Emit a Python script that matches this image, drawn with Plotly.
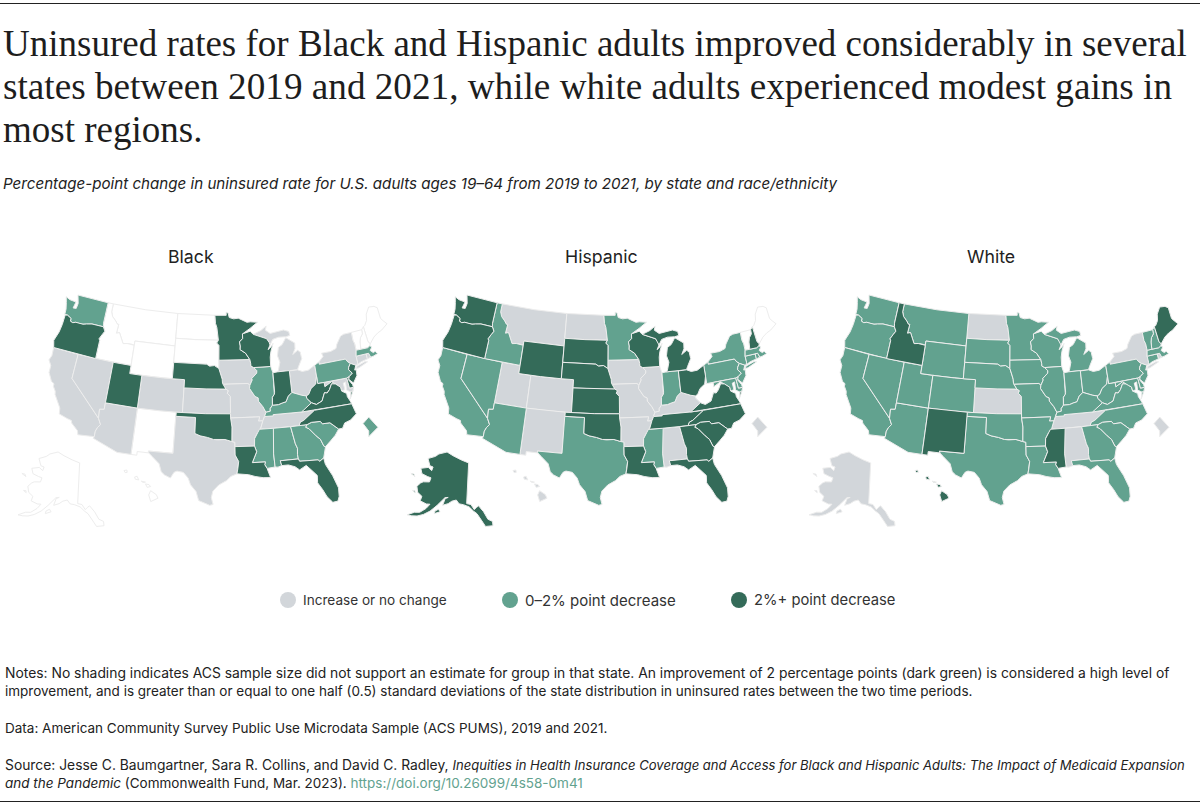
import math
import plotly.graph_objects as go

W, H = 1200, 805

# what each panel shows, by bucket
BLACK_UP = ["CA", "NV", "AZ", "CO", "KS", "TX", "IA", "MO", "AR", "TN", "MI", "OH", "NY", "CT", "RI", "MD"]
BLACK_MID = ["WA", "IL", "KY", "PA", "MA", "MS", "AL", "GA", "SC", "DC"]
BLACK_DARK = ["OR", "UT", "NE", "OK", "MN", "WI", "IN", "WV", "VA", "NC", "NJ", "DE", "LA", "FL"]
BLACK_NONE = ["MT", "ID", "WY", "ND", "SD", "NM", "ME", "NH", "VT", "AK", "HI"]

HISP_UP = ["MT", "ND", "UT", "CO", "NM", "IA", "MO", "IL", "AR", "KY", "AL", "HI", "DC"]
HISP_MID = ["CA", "NV", "AZ", "ID", "TX", "MN", "IN", "MS", "NY", "PA", "NJ", "MD", "DE", "CT", "MA", "RI"]
HISP_DARK = ["WA", "OR", "WY", "SD", "NE", "KS", "OK", "WI", "MI", "OH", "TN", "VA", "NC", "SC", "GA", "FL", "LA", "AK", "NH"]
HISP_NONE = ["WV", "ME", "VT"]

WHITE_UP = ["ND", "KS", "TN", "AL", "NY", "AK", "DC", "RI"]
WHITE_MID = ["WA", "OR", "CA", "NV", "AZ", "UT", "MT", "WY", "CO", "SD", "NE", "TX", "OK", "MN", "IA", "MO", "AR", "LA",
             "WI", "IL", "MI", "IN", "OH", "KY", "WV", "VA", "NC", "SC", "GA", "FL", "PA", "NJ", "MD", "DE", "CT", "MA",
             "NH", "VT"]
WHITE_DARK = ["ID", "NM", "MS", "ME", "HI"]
WHITE_NONE = []

PANEL_NAMES = ["Black", "Hispanic", "White"]
LEGEND_LABELS = ["Increase or no change", "0–2% point decrease", "2%+ point decrease"]

TITLE_LINES = [
    "Uninsured rates for Black and Hispanic adults improved considerably in several",
    "states between 2019 and 2021, while white adults experienced modest gains in",
    "most regions.",
]
SUBTITLE = "Percentage-point change in uninsured rate for U.S. adults ages 19–64 from 2019 to 2021, by state and race/ethnicity"
FOOT_LINES = [
    "Notes: No shading indicates ACS sample size did not support an estimate for group in that state. An improvement of 2 percentage points (dark green) is considered a high level of",
    "improvement, and is greater than or equal to one half (0.5) standard deviations of the state distribution in uninsured rates between the two time periods.",
    "Data: American Community Survey Public Use Microdata Sample (ACS PUMS), 2019 and 2021.",
    "Source: Jesse C. Baumgartner, Sara R. Collins, and David C. Radley, <i><span style='font-size:13.05px'>Inequities in Health Insurance Coverage and Access for Black and Hispanic Adults: The Impact of Medicaid Expansion</span></i>",
    "<i>and the Pandemic</i> (Commonwealth Fund, Mar. 2023). <span style='color:#62A28F'>https://doi.org/10.26099/4s58-0m41</span>",
]
FOOT_Y = [673, 691, 728, 765, 783]
FOOT_SIZE = [13.87, 13.5, 13.5, 13.85, 13.5]
LEGEND_SIZE = [13.6, 15, 14.75]

GRAY, MID, DARK = "#D2D6DA", "#62A28F", "#346B59"
EDGE = "#EDEDED"

# rough state outlines, lon/lat
SHAPES = {
    "WA": [[(-122.76,49),(-117.03,49),(-117.04,46.42),(-116.92,45.99),(-118.98,46),(-119.3,45.93),(-119.9,45.84),(-120.5,45.7),(-121.2,45.67),(-121.8,45.7),(-122.3,45.55),(-122.75,45.65),(-122.8,46),(-123.2,46.15),(-123.55,46.26),(-124.05,46.27),(-124.1,46.9),(-124.4,47.7),(-124.73,48.38),(-123.9,48.16),(-123.1,48.15),(-122.75,48.1),(-122.95,47.3),(-122.4,47.35),(-122.3,48),(-122.5,48.5)]],
    "OR": [[(-123.55,46.26),(-123.2,46.15),(-122.8,46),(-122.75,45.65),(-122.3,45.55),(-121.8,45.7),(-121.2,45.67),(-120.5,45.7),(-119.9,45.84),(-119.3,45.93),(-118.98,46),(-116.92,45.99),(-116.5,45.5),(-116.85,45),(-117.2,44.45),(-117.03,44.25),(-117.03,42),(-124.21,42),(-124.55,42.84),(-124.1,44),(-123.95,45),(-123.95,46.2)]],
    "ID": [[(-117.03,49),(-116.05,49),(-116.05,48),(-115.7,47.45),(-115,47),(-114.6,46.65),(-114.35,46.65),(-114.45,45.55),(-113.95,45.7),(-113.45,45.05),(-113,44.45),(-112.3,44.55),(-111.5,44.55),(-111.05,44.48),(-111.05,42),(-117.03,42),(-117.03,44.25),(-117.2,44.45),(-116.85,45),(-116.5,45.5),(-116.92,45.99),(-117.04,46.42)]],
    "MT": [[(-116.05,49),(-110,49),(-104.05,49),(-104.05,45),(-111.05,45),(-111.05,44.48),(-111.5,44.55),(-112.3,44.55),(-113,44.45),(-113.45,45.05),(-113.95,45.7),(-114.45,45.55),(-114.35,46.65),(-114.6,46.65),(-115,47),(-115.7,47.45),(-116.05,48)]],
    "WY": [[(-111.05,45),(-107.5,45),(-104.05,45),(-104.05,41),(-107.5,41),(-111.05,41)]],
    "ND": [[(-104.05,49),(-100.5,49),(-97.23,49),(-97.1,48),(-96.85,47.5),(-96.56,45.94),(-100.5,45.94),(-104.05,45.94)]],
    "SD": [[(-104.05,45.94),(-100.5,45.94),(-96.56,45.94),(-96.85,45.6),(-96.45,45.3),(-96.45,43.5),(-96.45,42.49),(-97.2,42.85),(-98,42.77),(-98.5,43),(-101,43),(-104.05,43)]],
    "NE": [[(-104.05,43),(-101,43),(-98.5,43),(-98,42.77),(-97.2,42.85),(-96.45,42.49),(-96.1,41.7),(-95.9,41.2),(-95.85,40.7),(-95.31,40),(-98.5,40),(-102.05,40),(-102.05,41),(-104.05,41)]],
    "CO": [[(-109.05,41),(-105.5,41),(-102.05,41),(-102.05,37),(-105.5,37),(-109.05,37)]],
    "UT": [[(-111.05,42),(-111.05,41),(-109.05,41),(-109.05,37),(-114.05,37),(-114.05,42)]],
    "NV": [[(-120,42),(-114.05,42),(-114.05,36.2),(-114.75,36.1),(-114.63,35),(-120,39)]],
    "CA": [[(-124.21,42),(-120,42),(-120,39),(-114.63,35),(-114.15,34.3),(-114.5,33.9),(-114.72,33.4),(-114.72,32.72),(-117.12,32.53),(-117.3,33),(-118.4,33.75),(-118.5,34.03),(-119.2,34.15),(-120.5,34.45),(-120.65,35.15),(-121.9,36.6),(-122,36.96),(-122.5,37.5),(-122.5,37.8),(-123,38),(-123.75,38.95),(-123.8,39.8),(-124.35,40.4),(-124.1,41)]],
    "AZ": [[(-114.05,37),(-109.05,37),(-109.05,31.33),(-111.07,31.33),(-114.81,32.5),(-114.72,32.72),(-114.72,33.4),(-114.5,33.9),(-114.15,34.3),(-114.63,35),(-114.75,36.1),(-114.05,36.2)]],
    "NM": [[(-109.05,37),(-106,37),(-103,37),(-103.04,32),(-106.62,32),(-106.53,31.78),(-108.21,31.78),(-108.21,31.33),(-109.05,31.33)]],
    "TX": [[(-103.04,36.5),(-100,36.5),(-100,34.56),(-99.2,34.3),(-98.1,34.13),(-97.2,33.9),(-96.6,33.85),(-95.5,33.9),(-94.48,33.64),(-94.04,33.55),(-94.04,33.02),(-94.04,31.99),(-93.55,31.2),(-93.7,30.3),(-93.84,29.7),(-94.7,29.4),(-95.3,28.9),(-96.4,28.35),(-97.2,27.6),(-97.4,26.8),(-97.15,25.96),(-97.6,25.85),(-98.3,26.1),(-99.1,26.4),(-99.5,27.5),(-100.3,28.3),(-100.67,29.1),(-101.4,29.77),(-102.3,29.88),(-102.7,29.7),(-103.15,28.98),(-104,29.3),(-104.5,29.65),(-104.9,30.6),(-106,31.4),(-106.53,31.78),(-106.62,32),(-103.04,32)]],
    "OK": [[(-103,37),(-98.5,37),(-94.62,37),(-94.62,36.5),(-94.43,35.4),(-94.48,33.64),(-95.5,33.9),(-96.6,33.85),(-97.2,33.9),(-98.1,34.13),(-99.2,34.3),(-100,34.56),(-100,36.5),(-103.02,36.5)]],
    "KS": [[(-102.05,40),(-98.5,40),(-95.31,40),(-94.9,39.8),(-95.1,39.5),(-94.61,39.11),(-94.62,37),(-98.5,37),(-102.05,37)]],
    "MN": [[(-97.23,49),(-95.15,49),(-95.15,49.38),(-94.8,49.3),(-94.6,48.72),(-93.8,48.55),(-92.95,48.62),(-92,48.3),(-91.4,48.07),(-90.75,48.1),(-89.5,48),(-90.9,47.3),(-92.05,46.72),(-92.3,46.66),(-92.29,46.1),(-92.87,45.7),(-92.75,45.2),(-92.8,44.75),(-91.9,44.3),(-91.22,43.5),(-96.45,43.5),(-96.45,45.3),(-96.85,45.6),(-96.56,45.94),(-96.85,47.5),(-97.1,48)]],
    "IA": [[(-96.45,43.5),(-91.22,43.5),(-91.1,43),(-91.1,42.7),(-90.64,42.5),(-90.15,42.1),(-90.2,41.8),(-91.05,41.2),(-91,41),(-91.42,40.38),(-91.73,40.61),(-95.77,40.58),(-95.85,40.7),(-95.9,41.2),(-96.1,41.7),(-96.45,42.49)]],
    "MO": [[(-95.77,40.58),(-91.73,40.61),(-91.42,40.38),(-91.5,40),(-90.7,39),(-90.2,38.8),(-90.2,38.4),(-89.55,37.7),(-89.15,37),(-89.4,36.5),(-89.7,36),(-90.37,36),(-90.15,36.5),(-94.62,36.5),(-94.62,37),(-94.61,39.11),(-95.1,39.5),(-94.9,39.8),(-95.31,40)]],
    "AR": [[(-94.62,36.5),(-90.15,36.5),(-90.37,36),(-89.7,36),(-90.1,35.1),(-90.6,34.6),(-91.1,33.9),(-91.17,33),(-94.04,33.02),(-94.04,33.55),(-94.48,33.64),(-94.43,35.4)]],
    "LA": [[(-94.04,33.02),(-91.17,33),(-90.9,32.3),(-91.6,31),(-89.73,31),(-89.85,30.67),(-89.55,30.2),(-89.4,29.8),(-89.15,29.05),(-90.2,29.1),(-91.3,29.3),(-92.2,29.55),(-93.84,29.7),(-93.7,30.3),(-93.55,31.2),(-94.04,31.99)]],
    "WI": [[(-92.05,46.72),(-90.9,46.95),(-90.4,46.55),(-89.1,46.14),(-88.1,45.9),(-87.7,45.4),(-87.6,45.1),(-88,44.55),(-87.4,44.9),(-87.05,45.25),(-87.55,44.3),(-87.75,43.6),(-87.8,42.49),(-90.64,42.5),(-91.1,42.7),(-91.1,43),(-91.22,43.5),(-91.9,44.3),(-92.8,44.75),(-92.75,45.2),(-92.87,45.7),(-92.29,46.1),(-92.3,46.66)]],
    "IL": [[(-90.64,42.5),(-87.8,42.49),(-87.53,41.7),(-87.53,39.35),(-87.6,39.1),(-87.95,38.75),(-88.05,37.8),(-88.45,37.4),(-88.45,37.1),(-89.15,37),(-89.55,37.7),(-90.2,38.4),(-90.2,38.8),(-90.7,39),(-91.5,40),(-91.42,40.38),(-91,41),(-91.05,41.2),(-90.2,41.8),(-90.15,42.1)]],
    "IN": [[(-87.53,41.7),(-87.2,41.76),(-86.82,41.76),(-84.8,41.76),(-84.81,39.1),(-85.45,38.7),(-85.9,38.05),(-86.5,37.95),(-87.1,37.8),(-88.05,37.8),(-87.95,38.75),(-87.6,39.1),(-87.53,39.35)]],
    "MI": [[(-86.82,41.76),(-84.8,41.76),(-83.45,41.73),(-83.2,42.1),(-82.5,43),(-82.6,43.85),(-83,44.07),(-83.9,43.65),(-83.4,44.3),(-83.3,45),(-84.75,45.78),(-85.5,45),(-86.2,44.7),(-86.5,43.7),(-86.2,42.9),(-86.6,41.9)],
           [(-90.4,46.55),(-89.1,46.14),(-88.1,45.9),(-87.6,45.1),(-87.05,45.75),(-86,45.95),(-84.75,45.9),(-84,46),(-84.1,46.5),(-85,46.75),(-86.1,46.67),(-87.4,46.5),(-88.2,46.95),(-88,47.45),(-89,46.95)]],
    "OH": [[(-84.8,41.72),(-83.45,41.73),(-82.7,41.45),(-81.7,41.5),(-80.52,41.98),(-80.52,40.64),(-80.85,39.7),(-81.7,39.25),(-82.2,38.6),(-82.6,38.45),(-83.3,38.6),(-84.3,38.9),(-84.81,39.1)]],
    "KY": [[(-89.4,36.5),(-88.07,36.5),(-88.07,36.65),(-83.68,36.6),(-83.1,36.85),(-81.97,37.54),(-82.6,38.17),(-82.6,38.45),(-83.3,38.6),(-84.3,38.9),(-84.81,39.1),(-85.45,38.7),(-85.9,38.05),(-86.5,37.95),(-87.1,37.8),(-88.05,37.8),(-88.45,37.4),(-88.45,37.1),(-89.15,37)]],
    "TN": [[(-90.3,35),(-88.2,35),(-84.32,35),(-84.05,35.4),(-83.5,35.57),(-82.7,36),(-81.68,36.59),(-83.68,36.6),(-88.07,36.65),(-88.07,36.5),(-89.4,36.5),(-89.7,36),(-90.1,35.1)]],
    "MS": [[(-90.3,35),(-88.2,35),(-88.1,34.9),(-88.47,31.9),(-88.4,30.3),(-89.55,30.2),(-89.85,30.67),(-89.73,31),(-91.6,31),(-90.9,32.3),(-91.17,33),(-91.1,33.9),(-90.6,34.6)]],
    "AL": [[(-88.2,35),(-85.6,34.99),(-85.18,32.87),(-84.95,32.3),(-85.05,31.55),(-85,31),(-87.6,31),(-87.45,30.4),(-88,30.25),(-88.4,30.3),(-88.47,31.9),(-88.1,34.9)]],
    "GA": [[(-85.6,34.99),(-83.1,35),(-83.35,34.7),(-82.9,34.48),(-82,33.5),(-81.45,33),(-81.1,32.1),(-80.88,32.03),(-81.4,30.7),(-82.05,30.36),(-82.2,30.57),(-84.86,30.7),(-85,31),(-85.05,31.55),(-84.95,32.3),(-85.18,32.87)]],
    "FL": [[(-87.6,31),(-85,31),(-84.86,30.7),(-82.2,30.57),(-82.05,30.36),(-81.4,30.7),(-81.3,29.9),(-80.55,28.4),(-80.03,26.8),(-80.13,25.75),(-80.4,25.2),(-81.1,25.15),(-81.75,25.95),(-82.2,26.9),(-82.75,27.8),(-82.65,28.7),(-83.4,29.5),(-84,30.1),(-85,29.65),(-85.6,30.1),(-86.5,30.4),(-87.45,30.4)]],
    "SC": [[(-83.35,34.7),(-83.1,35),(-82.4,35.2),(-81.05,35.15),(-80.8,34.82),(-79.67,34.8),(-78.55,33.86),(-79.2,33.2),(-79.9,32.7),(-80.88,32.03),(-81.1,32.1),(-81.45,33),(-82,33.5),(-82.9,34.48)]],
    "NC": [[(-84.32,35),(-83.1,35),(-82.4,35.2),(-81.05,35.15),(-80.8,34.82),(-79.67,34.8),(-78.55,33.86),(-77.95,33.87),(-77.5,34.45),(-76.55,34.65),(-75.5,35.25),(-75.87,36.55),(-81.68,36.59),(-82.7,36),(-83.5,35.57),(-84.05,35.4)]],
    "VA": [[(-83.68,36.6),(-75.87,36.55),(-76,36.9),(-76.3,37.5),(-76.3,37.9),(-77,38.3),(-77.05,38.8),(-77.5,39.1),(-77.75,39.3),(-78.35,39.4),(-78.85,38.75),(-79.3,38.4),(-79.7,38.5),(-80.3,37.55),(-81.25,37.25),(-81.97,37.54),(-83.1,36.85)],
           [(-75.95,37.15),(-75.6,37.95),(-75.25,38.03)]],
    "WV": [[(-82.6,38.17),(-81.97,37.54),(-81.25,37.25),(-80.3,37.55),(-79.7,38.5),(-79.3,38.4),(-78.85,38.75),(-78.35,39.4),(-77.75,39.3),(-78.3,39.65),(-79.48,39.2),(-79.48,39.72),(-80.52,39.72),(-80.52,40.64),(-80.85,39.7),(-81.7,39.25),(-82.2,38.6),(-82.6,38.45)]],
    "MD": [[(-79.48,39.72),(-75.79,39.72),(-75.7,38.46),(-75.05,38.45),(-75.25,38.03),(-75.6,37.95),(-76.2,38.3),(-76.1,39.3),(-76.5,39.2),(-76.45,38.4),(-77,38.3),(-77.05,38.8),(-77.5,39.1),(-77.75,39.3),(-78.3,39.65),(-79.48,39.2)]],
    "DE": [[(-75.79,39.72),(-75.4,39.8),(-75.55,39.45),(-75.1,38.8),(-75.05,38.45),(-75.7,38.46)]],
    "PA": [[(-80.52,41.98),(-79.76,42.27),(-79.76,42),(-75.35,42),(-75.05,41.6),(-74.7,41.36),(-75.1,40.95),(-75.2,40.65),(-74.73,40.15),(-75.4,39.8),(-75.79,39.72),(-80.52,39.72)]],
    "NJ": [[(-74.7,41.36),(-73.9,41),(-74.25,40.45),(-74,40.45),(-74.1,39.75),(-74.9,38.95),(-75.55,39.55),(-75.4,39.8),(-74.73,40.15),(-75.2,40.65),(-75.1,40.95)]],
    "NY": [[(-79.76,42.27),(-78.9,42.85),(-79.05,43.27),(-77.5,43.27),(-76.5,43.5),(-76.2,44),(-75.3,44.85),(-74.7,45),(-73.35,45),(-73.4,44),(-73.25,43.55),(-73.27,42.75),(-73.5,42.05),(-73.5,41.3),(-73.65,41),(-73.9,41),(-74.7,41.36),(-75.05,41.6),(-75.35,42),(-79.76,42)],
           [(-74,40.6),(-73.75,40.85),(-72.3,41.15),(-71.9,41.05),(-73.5,40.6)]],
    "CT": [[(-73.5,42.05),(-71.8,42.02),(-71.8,41.4),(-72.9,41.25),(-73.65,41),(-73.5,41.3)]],
    "RI": [[(-71.8,42.02),(-71.38,42.02),(-71.2,41.5),(-71.8,41.4)]],
    "MA": [[(-73.27,42.75),(-71.3,42.7),(-70.85,42.87),(-70.6,42.65),(-71,42.3),(-70.6,41.95),(-70.25,42.05),(-69.95,41.7),(-70.65,41.55),(-71.2,41.5),(-71.38,42.02),(-71.8,42.02),(-73.5,42.05)]],
    "VT": [[(-73.35,45),(-71.5,45.01),(-71.55,44.5),(-72.05,44.1),(-72.3,43.6),(-72.46,42.73),(-73.27,42.75),(-73.25,43.55),(-73.4,44)]],
    "NH": [[(-71.5,45.01),(-71.08,45.3),(-70.98,43.4),(-70.7,43.08),(-70.85,42.87),(-71.3,42.7),(-72.46,42.73),(-72.3,43.6),(-72.05,44.1),(-71.55,44.5)]],
    "ME": [[(-71.08,45.3),(-70.8,45.4),(-70.25,45.95),(-70,46.7),(-69.25,47.45),(-68.3,47.35),(-67.8,47.07),(-67.8,45.7),(-67.45,45.3),(-67,44.85),(-68.2,44.3),(-69,44.1),(-69.8,43.75),(-70.7,43.08),(-70.98,43.4)]],
}
ALASKA = [
    [(-141,69.65),(-141,60.3),(-139,60.1),(-137.5,58.95),(-136.5,59.45),(-135.5,59.8),(-134,58.8),(-133.4,58.4),(-131.8,56.6),(-130,56),(-130,55),(-131.5,55),(-133,55),(-134,56),(-135,57),(-136.3,58),(-137.8,58.6),(-139.8,59.55),(-142.5,60),(-144.5,60.1),(-146,60.9),(-148,60.5),(-149.5,59.8),(-151.8,59.2),(-151.3,60.8),(-150,61.2),(-151.5,61),(-153,59.8),(-154.2,58.9),(-156.5,57.2),(-158.8,56),(-161,55.2),(-163,54.8),(-164.9,54.6),(-162.5,55.8),(-160.5,56.2),(-158.5,57.5),(-157.4,58.7),(-159,58.5),(-162,58.7),(-162,59.8),(-164.5,60.3),(-166,61.5),(-165,62.5),(-164,63),(-161,63.5),(-161,64.5),(-163,64.5),(-166.3,64.6),(-168.1,65.6),(-164.5,66.5),(-162,66.1),(-162,67),(-164,67),(-166.8,68.35),(-163,69.5),(-161.5,70.3),(-156.6,71.35),(-152,70.85),(-146,70.2)],
    [(-154.5,56.9),(-152.3,57.6),(-153.2,58.1),(-154.5,57.5)],
    [(-171.5,63.5),(-169,63.3),(-170,63.7)],
    [(-167,60.2),(-165.5,60),(-166,60.4)],
]
HAWAII = [
    [(-155.9,20.25),(-155.1,19.9),(-154.8,19.5),(-155.65,18.95),(-156.05,19.7)],
    [(-156.7,20.95),(-156.25,20.95),(-156,20.75),(-156.4,20.58)],
    [(-157.3,21.2),(-156.75,21.17),(-157.05,21.08)],
    [(-158.25,21.55),(-157.95,21.7),(-157.65,21.3),(-158.1,21.3)],
    [(-159.75,22.1),(-159.4,22.23),(-159.3,21.95),(-159.55,21.88)],
]
DC_SHAPE = [[(-77.12,38.93),(-77.04,39.0),(-76.91,38.89),(-77.04,38.79),(-77.04,38.85)]]


def albers(ring, lon0, lat0, p1, p2):
    n = (math.sin(math.radians(p1)) + math.sin(math.radians(p2))) / 2
    c = math.cos(math.radians(p1)) ** 2 + 2 * n * math.sin(math.radians(p1))
    r0 = math.sqrt(c - 2 * n * math.sin(math.radians(lat0))) / n
    out = []
    for lon, lat in ring:
        r = math.sqrt(c - 2 * n * math.sin(math.radians(lat))) / n
        a = n * math.radians(lon - lon0)
        out.append((r * math.sin(a), r0 - r * math.cos(a)))
    return out


def place(rings, left, top, width, turn=0.0):
    # turn is clockwise, degrees; result runs in pixels inside a panel
    t = math.radians(turn)
    spun = [[(x * math.cos(t) + y * math.sin(t), -x * math.sin(t) + y * math.cos(t)) for x, y in r] for r in rings]
    xs = [p[0] for r in spun for p in r]
    ys = [p[1] for r in spun for p in r]
    k = width / (max(xs) - min(xs))
    return [[(left + (x - min(xs)) * k, top + (max(ys) - y) * k) for x, y in r] for r in spun]


names = list(SHAPES)
flat = place([albers(r, -96, 37.5, 29.5, 45.5) for s in names for r in SHAPES[s]], 49, 15, 338)
panel_xy = {}
i = 0
for s in names:
    panel_xy[s] = flat[i:i + len(SHAPES[s])]
    i += len(SHAPES[s])
panel_xy["AK"] = place([albers(r, -154, 50, 55, 65) for r in ALASKA], 18, 172, 86, turn=14)
panel_xy["HI"] = place([albers(r, -157, 20, 8, 18) for r in HAWAII], 124, 190, 34, turn=10)
panel_xy["DC"] = place([albers(r, -77, 38.9, 29.5, 45.5) for r in DC_SHAPE], 363, 137, 15)

panels = [
    (BLACK_NONE, BLACK_UP, BLACK_MID, BLACK_DARK),
    (HISP_NONE, HISP_UP, HISP_MID, HISP_DARK),
    (WHITE_NONE, WHITE_UP, WHITE_MID, WHITE_DARK),
]
panel_left = [0, 389, 791]
panel_title_x = [191, 601, 991]
panel_w, panel_top, panel_h = 400, 280, 258

fig = go.Figure()
for p, buckets in enumerate(panels):
    sfx = "" if p == 0 else str(p + 1)
    for states, col in zip(buckets, ["#FFFFFF", GRAY, MID, DARK]):
        for s in states:
            xs, ys = [], []
            for ring in panel_xy[s]:
                xs += [q[0] for q in ring] + [ring[0][0], None]
                ys += [q[1] for q in ring] + [ring[0][1], None]
            fig.add_trace(go.Scatter(x=xs, y=ys, xaxis="x" + sfx, yaxis="y" + sfx, mode="lines", fill="toself",
                                     fillcolor=col, line=dict(color=EDGE, width=1), hoverinfo="skip", showlegend=False))
    fig.update_layout({
        "xaxis" + sfx: dict(domain=[panel_left[p] / W, min(1, (panel_left[p] + panel_w) / W)], range=[0, panel_w],
                            visible=False, fixedrange=True),
        "yaxis" + sfx: dict(domain=[1 - (panel_top + panel_h) / H, 1 - panel_top / H], range=[panel_h, 0],
                            visible=False, fixedrange=True),
    })

# legend dots on their own strip of axes, labels are annotations
legend_x = [288, 510, 739]
fig.add_trace(go.Scatter(x=legend_x, y=[600] * 3, xaxis="x4", yaxis="y4", mode="markers", hoverinfo="skip",
                         showlegend=False, marker=dict(color=[GRAY, MID, DARK], size=16, line=dict(width=0))))
fig.update_layout(
    xaxis4=dict(domain=[0, 1], range=[0, W], visible=False, fixedrange=True),
    yaxis4=dict(domain=[1 - 620 / H, 1 - 580 / H], range=[620, 580], visible=False, fixedrange=True),
)

notes = []


def text(s, x, y, size, font, color="#222222", anchor="left"):
    notes.append(dict(text=s, x=x / W, y=1 - y / H, xref="paper", yref="paper", xanchor=anchor, yanchor="middle",
                      showarrow=False, align=anchor, font=dict(size=size, family=font, color=color)))


for line, y, size in zip(TITLE_LINES, [43.5, 86.5, 129.5], [37, 37.2, 37]):
    text(line, 1, y, size, "Liberation Serif", "#1d1d1d")
text("<i>" + SUBTITLE + "</i>", 1, 184, 15.15, "Inter")
for name, x in zip(PANEL_NAMES, panel_title_x):
    text(name, x, 256, 17.7, "Inter", anchor="center")
for line, y, size in zip(FOOT_LINES, FOOT_Y, FOOT_SIZE):
    text(line, 3, y, size, "Inter")
for label, x, size in zip(LEGEND_LABELS, legend_x, LEGEND_SIZE):
    text(label, x + 13, 600, size, "Inter", "#333333")

rules = [dict(type="line", xref="paper", yref="paper", x0=0, x1=1, y0=1 - py / H, y1=1 - py / H,
              line=dict(color="#222222", width=1)) for py in (3.5, 801.5)]

fig.update_layout(
    width=W, height=H, margin=dict(l=0, r=0, t=0, b=0), paper_bgcolor="white", plot_bgcolor="rgba(0,0,0,0)",
    annotations=notes, shapes=rules, showlegend=False,
)
fig.write_html("out.html", config=dict(displayModeBar=False), post_script="document.body.style.margin='0';")
